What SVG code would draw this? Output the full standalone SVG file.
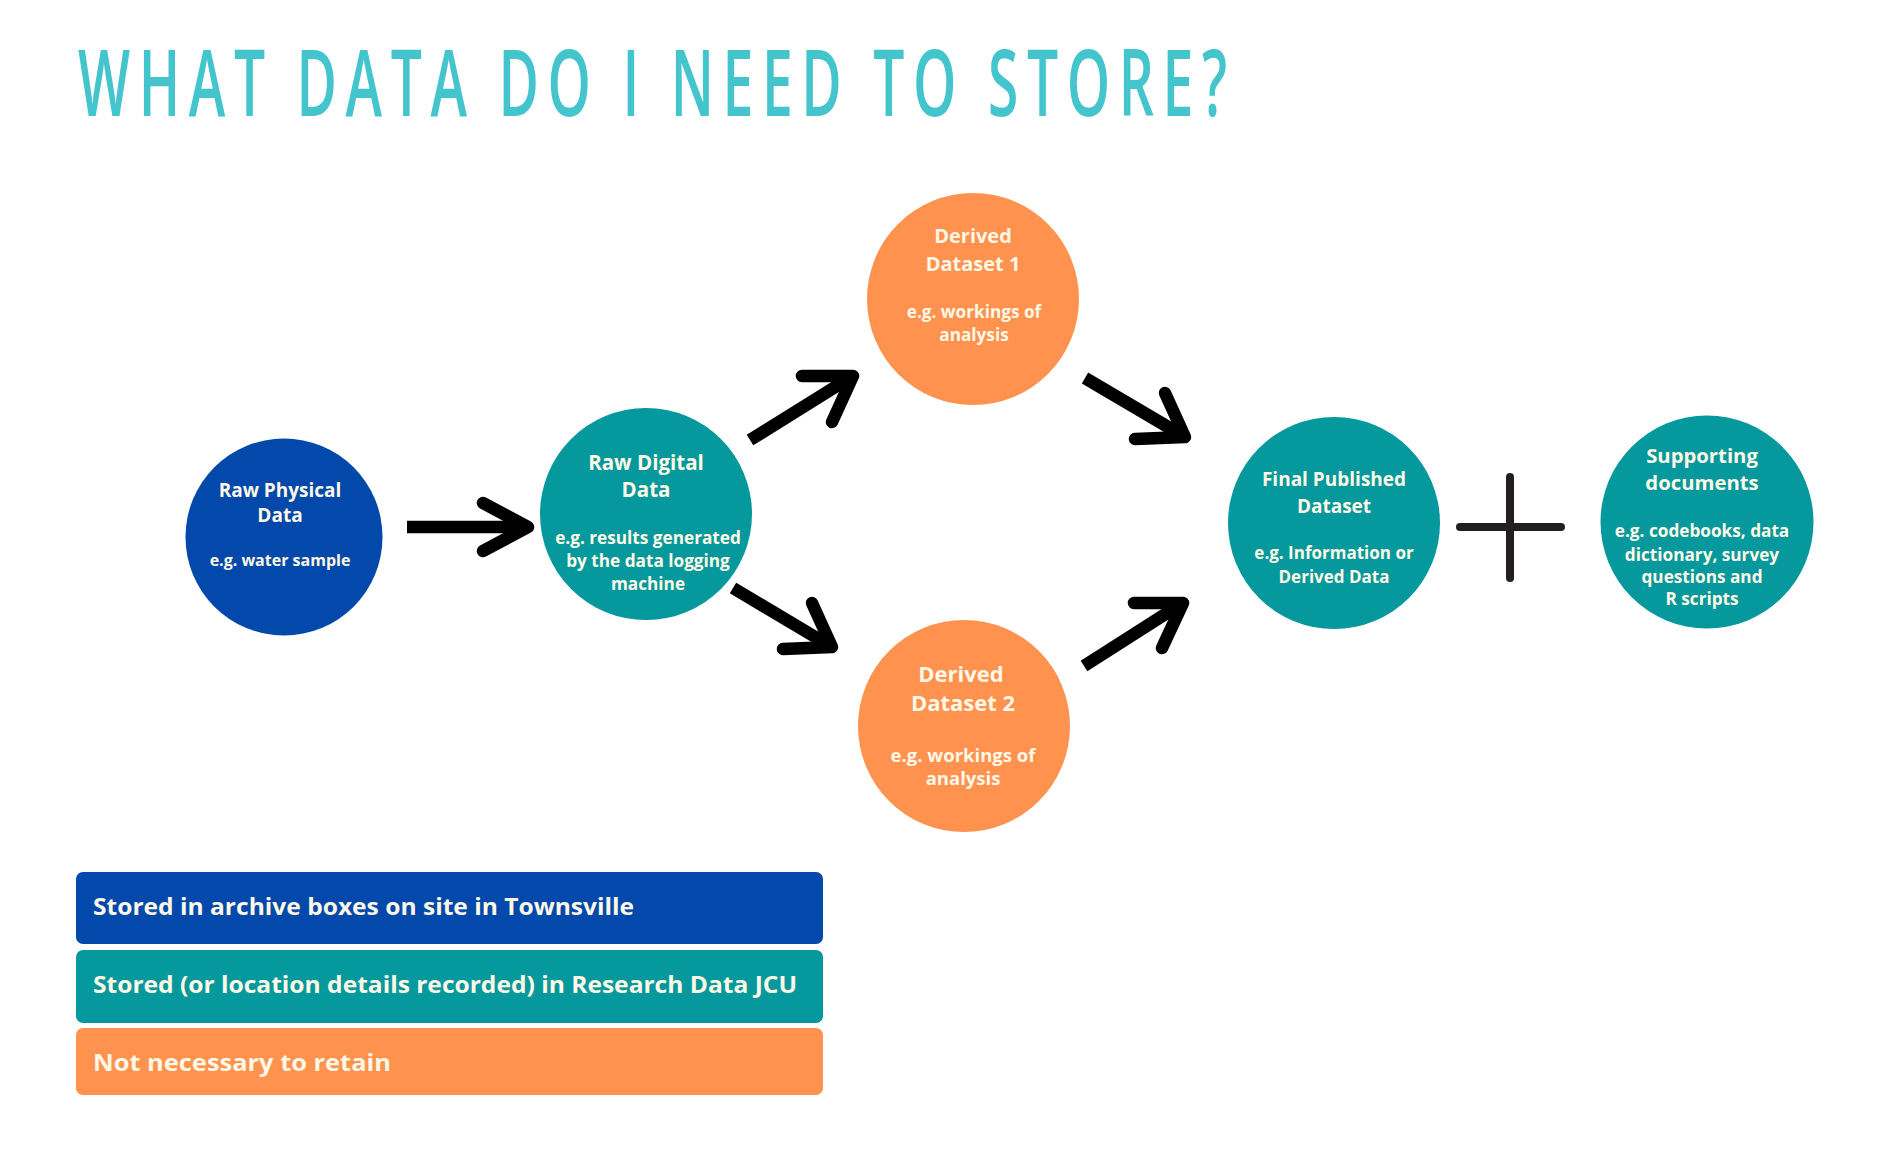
<svg xmlns="http://www.w3.org/2000/svg" width="1882" height="1156" viewBox="0 0 1882 1156">
<style>
.t{font-family:"Open Sans","Liberation Sans",sans-serif;font-weight:700;fill:#FFF8E6;text-anchor:middle}
.lg{font-family:"Open Sans","Liberation Sans",sans-serif;font-weight:700;fill:#FFF8E6;font-size:24px}
.blue{fill:#0249AB}
.teal{fill:#05989C}
.orange{fill:#FF924E}
.arr{fill:none;stroke:#000;stroke-width:12.5}
.shaft{stroke-linecap:butt}
.head{stroke-linecap:round;stroke-linejoin:round}
</style>
<rect width="1882" height="1156" fill="#fff"/>
<g id="title" transform="translate(78,116) scale(0.6,1)">
<text x="0" y="0" textLength="1915" lengthAdjust="spacing" style="font-family:'Open Sans','Liberation Sans',sans-serif;font-weight:600;font-size:92px;fill:#44C5CD">WHAT DATA DO I NEED TO STORE?</text>
</g>
<g id="connectors">
<g id="a1"><line class="arr shaft" x1="407" y1="527" x2="524" y2="527"/><polyline class="arr head" points="483,503 528,527 483,551"/></g>
<g id="a2"><line class="arr shaft" x1="750" y1="440" x2="848" y2="379"/><polyline class="arr head" points="802,376 853,376 832,422"/></g>
<g id="a3"><line class="arr shaft" x1="1085" y1="378" x2="1180" y2="434"/><polyline class="arr head" points="1165,393 1185,437 1135,439"/></g>
<g id="a4"><line class="arr shaft" x1="733" y1="588" x2="827" y2="644"/><polyline class="arr head" points="812,603 832,647 783,649"/></g>
<g id="a5"><line class="arr shaft" x1="1084" y1="666" x2="1178" y2="606"/><polyline class="arr head" points="1134,603 1183,603 1162,648"/></g>
<g id="plus"><line x1="1510" y1="477" x2="1510" y2="578" stroke="#231F20" stroke-width="8" stroke-linecap="round"/><line x1="1460" y1="527" x2="1561" y2="527" stroke="#231F20" stroke-width="8" stroke-linecap="round"/></g>
</g>
<g id="raw-physical">
<circle class="blue" cx="284" cy="537" r="98.5"/>
<text class="t" font-size="19" x="280" y="497">Raw Physical</text>
<text class="t" font-size="19" x="280" y="522">Data</text>
<text class="t" font-size="16" x="280" y="566">e.g. water sample</text>
</g>
<g id="raw-digital">
<circle class="teal" cx="646" cy="514" r="106"/>
<text class="t" font-size="20.5" x="646" y="470">Raw Digital</text>
<text class="t" font-size="20.5" x="646" y="497">Data</text>
<text class="t" font-size="17.2" x="648" y="544">e.g. results generated</text>
<text class="t" font-size="17.2" x="648" y="567">by the data logging</text>
<text class="t" font-size="17.2" x="648" y="590">machine</text>
</g>
<g id="derived-1">
<circle class="orange" cx="973" cy="299" r="106"/>
<text class="t" font-size="20" x="973" y="243">Derived</text>
<text class="t" font-size="20" x="973" y="271">Dataset 1</text>
<text class="t" font-size="17.2" x="974" y="318">e.g. workings of</text>
<text class="t" font-size="17.2" x="974" y="341">analysis</text>
</g>
<g id="derived-2">
<circle class="orange" cx="964" cy="726" r="106"/>
<text class="t" font-size="22" x="961" y="682">Derived</text>
<text class="t" font-size="22" x="963" y="711">Dataset 2</text>
<text class="t" font-size="18.5" x="963" y="762">e.g. workings of</text>
<text class="t" font-size="18.5" x="963" y="785">analysis</text>
</g>
<g id="final-published">
<circle class="teal" cx="1334" cy="523" r="106"/>
<text class="t" font-size="19" x="1334" y="486">Final Published</text>
<text class="t" font-size="19" x="1334" y="513">Dataset</text>
<text class="t" font-size="17" x="1334" y="559">e.g. Information or</text>
<text class="t" font-size="17" x="1334" y="583">Derived Data</text>
</g>
<g id="supporting">
<circle class="teal" cx="1707" cy="522" r="106.5"/>
<text class="t" font-size="20.3" x="1702" y="463">Supporting</text>
<text class="t" font-size="20.3" x="1702" y="490">documents</text>
<text class="t" font-size="17.2" x="1702" y="537">e.g. codebooks, data</text>
<text class="t" font-size="17.2" x="1702" y="561">dictionary, survey</text>
<text class="t" font-size="17.2" x="1702" y="583">questions and</text>
<text class="t" font-size="17.2" x="1702" y="605">R scripts</text>
</g>
<g id="legend">
<g id="legend-archive"><rect class="blue" x="76" y="872" width="747" height="72" rx="7"/><text class="lg" x="93" y="915" textLength="541" lengthAdjust="spacingAndGlyphs">Stored in archive boxes on site in Townsville</text></g>
<g id="legend-research"><rect class="teal" x="76" y="950" width="747" height="73" rx="7"/><text class="lg" x="93" y="993" textLength="704" lengthAdjust="spacingAndGlyphs">Stored (or location details recorded) in Research Data JCU</text></g>
<g id="legend-retain"><rect class="orange" x="76" y="1028" width="747" height="67" rx="7"/><text class="lg" x="93" y="1071" textLength="298" lengthAdjust="spacingAndGlyphs">Not necessary to retain</text></g>
</g>
</svg>
